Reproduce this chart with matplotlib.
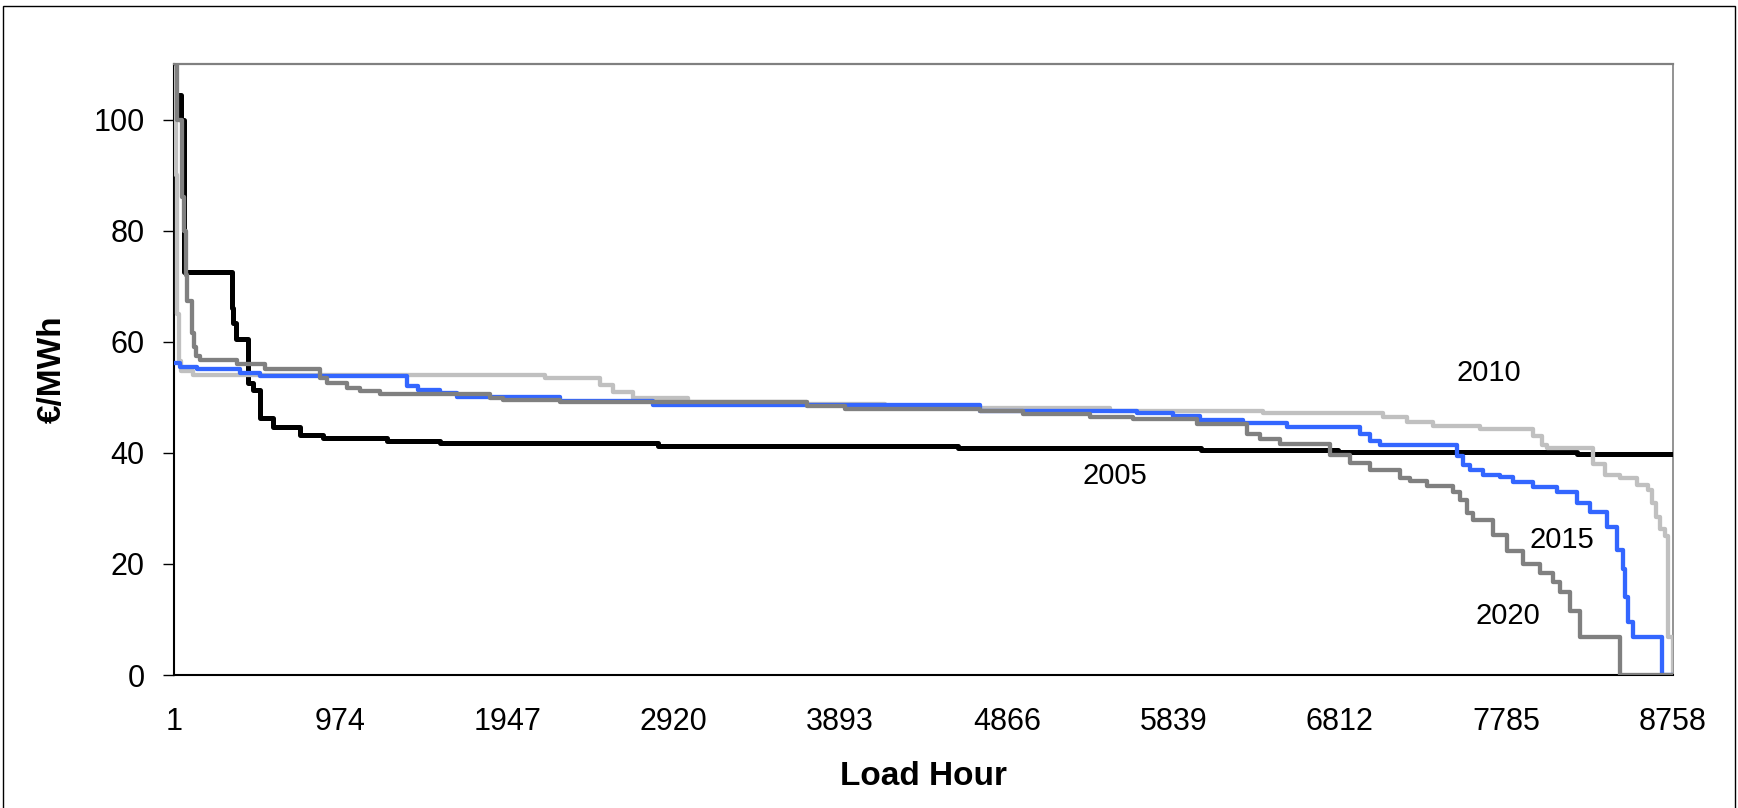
import numpy as np
import matplotlib
matplotlib.use("Agg")
import matplotlib.pyplot as plt

plt.rcParams['font.family'] = ['Liberation Sans', 'DejaVu Sans']

# Кривые продолжительности цен (часы, €/MWh), ступенчатые
hours_2005 = [1, 8, 40, 62, 338, 346, 365, 433, 460, 503, 579, 737, 871, 1245,
              1555, 2830, 4580, 6000, 6800, 8200]
price_2005 = [110, 104.5, 100, 72.5, 66, 63.3, 60.5, 52.5, 51.3, 46.2, 44.7,
              43.2, 42.7, 42.1, 41.7, 41.2, 40.8, 40.5, 40.2, 39.7]

hours_2010 = [1, 12, 20, 28, 40, 112, 2168, 2490, 2567, 2684, 3005, 3700, 4155,
              5469, 6365, 7066, 7202, 7358, 7630, 7940, 7990, 8020, 8291, 8361,
              8449, 8546, 8614, 8634, 8660, 8682, 8712, 8731, 8756]
price_2010 = [110, 90, 65, 56.5, 54.8, 54.0, 53.4, 52.2, 51.0, 49.9, 49.1, 48.7,
              48.1, 47.5, 47.1, 46.5, 45.6, 44.9, 44.2, 43.0, 41.4, 40.8, 38.0,
              36.0, 35.4, 34.2, 33.3, 31.0, 28.5, 26.2, 25.0, 6.9, 0]

hours_2015 = [1, 36, 135, 387, 503, 1362, 1426, 1555, 1654, 2256, 2800, 4710,
              5625, 5837, 5995, 6246, 6501, 6930, 6990, 7046, 7495, 7530, 7572,
              7648, 7748, 7823, 7940, 8080, 8197, 8273, 8372, 8431, 8466, 8478,
              8495, 8525, 8694]
price_2015 = [56.1, 55.5, 55.0, 54.4, 53.9, 52.0, 51.3, 50.7, 50.0, 49.3, 48.6,
              47.6, 47.2, 46.7, 45.9, 45.3, 44.6, 43.3, 42.2, 41.4, 39.5, 37.8,
              36.9, 36.0, 35.7, 34.8, 33.9, 33.0, 30.9, 29.4, 26.7, 22.5, 19.0,
              14.0, 9.5, 6.9, 0]

hours_2020 = [1, 17, 46, 59, 70, 77, 106, 120, 130, 153, 369, 533, 854, 895,
              1012, 1088, 1204, 1847, 1923, 2256, 3697, 3921, 4710, 4961, 5352,
              5604, 5977, 6269, 6345, 6462, 6755, 6871, 6988, 7163, 7222, 7321,
              7473, 7514, 7555, 7590, 7707, 7788, 7882, 7981, 8057, 8098, 8156,
              8215, 8449]
price_2020 = [110, 100, 86, 80, 72, 67.4, 61.5, 59, 57.5, 56.7, 55.9, 55.0,
              53.5, 52.5, 51.6, 51.1, 50.5, 49.9, 49.5, 49.1, 48.5, 47.9, 47.5,
              46.9, 46.4, 46.0, 45.1, 43.4, 42.5, 41.6, 39.6, 38.1, 36.9, 35.5,
              35.0, 34.0, 33.0, 31.5, 29.2, 27.9, 25.2, 22.4, 19.9, 18.3, 16.8,
              15.0, 11.5, 6.9, 0]

x_ticks = [1, 974, 1947, 2920, 3893, 4866, 5839, 6812, 7785, 8758]
y_ticks = [0, 20, 40, 60, 80, 100]
last_hour = 8760

series = [
    ("2005", hours_2005, price_2005, "#000000", 3.6, (5498, 35.8)),
    ("2010", hours_2010, price_2010, "#C0C0C0", 3.1, (7683, 54.3)),
    ("2015", hours_2015, price_2015, "#3366FF", 3.1, (8111, 24.3)),
    ("2020", hours_2020, price_2020, "#808080", 3.1, (7796, 10.7)),
]

fig = plt.figure(figsize=(17.38, 8.08), dpi=100)
ax = fig.add_axes([0.1001, 0.1646, 0.8625, 0.7562])

for name, h, p, color, lw, pos in series:
    hh = np.append(h, last_hour)
    pp = np.append(p, p[-1])
    ax.step(hh, pp, where="post", color=color, linewidth=lw, zorder=3)
    ax.text(pos[0], pos[1], name, fontsize=21, ha="center", va="center")

ax.set_xlim(1, 8758)
ax.set_ylim(0, 110)
ax.set_xticks(x_ticks)
ax.set_yticks(y_ticks)
ax.tick_params(axis="x", length=0, pad=23, labelsize=22)
ax.tick_params(axis="y", length=8, width=1, pad=13, labelsize=22)

ax.spines["left"].set_color("black")
ax.spines["left"].set_linewidth(1.5)
ax.spines["bottom"].set_color("black")
ax.spines["bottom"].set_linewidth(1.5)
ax.spines["top"].set_color("#808080")
ax.spines["top"].set_linewidth(1.6)
ax.spines["right"].set_color("#808080")
ax.spines["right"].set_linewidth(1.2)

ax.set_xlabel("Load Hour", fontsize=24, fontweight="bold")
ax.xaxis.set_label_coords(0.5, -0.141)
ax.set_ylabel("€/MWh", fontsize=24, fontweight="bold")
ax.yaxis.set_label_coords(-0.071, 0.5)

# рамка вокруг всей картинки
fig.add_artist(plt.Rectangle((0.0017, -0.01), 0.9966, 1.0026,
                             transform=fig.transFigure, fill=False,
                             edgecolor="black", linewidth=1))

fig.savefig("out.png", dpi=100)
